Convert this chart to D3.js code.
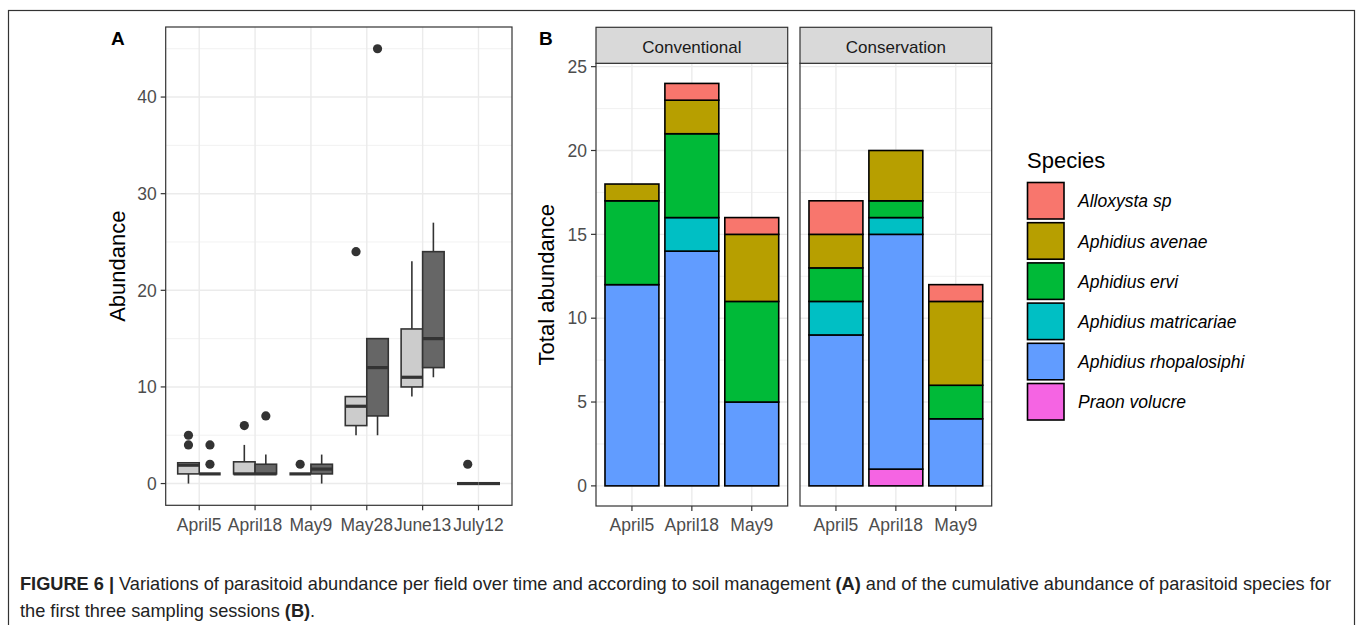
<!DOCTYPE html>
<html><head><meta charset="utf-8">
<script src="https://cdn.jsdelivr.net/npm/d3@7"></script>
<style>body{margin:0;background:#fff}svg{display:block}text{font-family:"Liberation Sans",Arial,sans-serif}</style>
</head><body><svg id="c" width="1357" height="625"></svg>
<script>
// ---------- DATA ----------
const datesA = ["April5","April18","May9","May28","June13","July12"];
const groupsA = ["Conventional","Conservation"];
// box stats: [lowerWhisker, Q1, median, Q3, upperWhisker]
const boxLight = [[0,1,1.9,2.15,2.15],[1,1,1,2.25,4],[1,1,1,1,1],[5,6,8,9,9],[9,10,11,16,23],[0,0,0,0,0]];
const outLight = [[4,5],[6],[2],[24],[],[2]];
const boxDark  = [[1,1,1,1,1],[1,1,1,2,3],[0,1,1.5,2,3],[5,7,12,15,15],[11,12,15,24,27],[0,0,0,0,0]];
const outDark  = [[2,4],[7],[],[45],[],[]];
const yTicksA = [0,10,20,30,40];

const datesB = ["April5","April18","May9"];
const panelsB = ["Conventional","Conservation"];
const species = ["Alloxysta sp","Aphidius avenae","Aphidius ervi","Aphidius matricariae","Aphidius rhopalosiphi","Praon volucre"];
const speciesColors = ["#F8766D","#B79F00","#00BA38","#00BFC4","#619CFF","#F564E3"];
// counts per species (order as species), per date
const convCounts = [[0,1,5,0,12,0],[1,2,5,2,14,0],[1,4,6,0,5,0]];
const consCounts = [[2,2,2,2,9,0],[0,3,1,1,14,1],[1,5,2,0,4,0]];
const yTicksB = [0,5,10,15,20,25];

// ---------- DRAW ----------
const svg = d3.select("#c");
svg.append("rect").attr("width",1357).attr("height",625).attr("fill","#fff");
svg.append("rect").attr("x",8.5).attr("y",10.5).attr("width",1346).attr("height",630)
  .attr("fill","none").attr("stroke","#333").attr("stroke-width",1.2);

const gridMaj="#ebebeb", axCol="#333333", tickTxt="#4d4d4d";

// ---- Panel A ----
const A = {x0:165.7,x1:512,y0:27,y1:505.3};
const xA = d3.scaleLinear().domain([0.4,datesA.length+0.6]).range([A.x0,A.x1]);
const yA = d3.scaleLinear().domain([-2.25,47.25]).range([A.y1,A.y0]);
const gA = svg.append("g");
d3.range(5,50,10).forEach(v=>gA.append("line").attr("x1",A.x0).attr("x2",A.x1).attr("y1",yA(v)).attr("y2",yA(v)).attr("stroke",gridMaj).attr("stroke-width",0.7));
yTicksA.forEach(v=>gA.append("line").attr("x1",A.x0).attr("x2",A.x1).attr("y1",yA(v)).attr("y2",yA(v)).attr("stroke",gridMaj).attr("stroke-width",1.4));
datesA.forEach((d,i)=>gA.append("line").attr("x1",xA(i+1)).attr("x2",xA(i+1)).attr("y1",A.y0).attr("y2",A.y1).attr("stroke",gridMaj).attr("stroke-width",1.4));

const bw = 0.385;
function drawBoxes(stats, outs, offset, fill){
  stats.forEach((s,i)=>{
    const cx = xA(i+1+offset);
    const hw = (xA(bw)-xA(0))/2;
    gA.append("line").attr("x1",cx).attr("x2",cx).attr("y1",yA(s[0])).attr("y2",yA(s[1])).attr("stroke",axCol).attr("stroke-width",1.6);
    gA.append("line").attr("x1",cx).attr("x2",cx).attr("y1",yA(s[3])).attr("y2",yA(s[4])).attr("stroke",axCol).attr("stroke-width",1.6);
    gA.append("rect").attr("x",cx-hw).attr("width",2*hw).attr("y",yA(s[3])).attr("height",Math.max(0,yA(s[1])-yA(s[3])))
      .attr("fill",fill).attr("stroke",axCol).attr("stroke-width",1.6);
    gA.append("line").attr("x1",cx-hw).attr("x2",cx+hw).attr("y1",yA(s[2])).attr("y2",yA(s[2])).attr("stroke",axCol).attr("stroke-width",3.2);
    outs[i].forEach(o=>gA.append("circle").attr("cx",cx).attr("cy",yA(o)).attr("r",4.6).attr("fill",axCol));
  });
}
drawBoxes(boxLight,outLight,-0.1925,"#cccccc");
drawBoxes(boxDark,outDark,0.1925,"#666666");
gA.append("rect").attr("x",A.x0).attr("y",A.y0).attr("width",A.x1-A.x0).attr("height",A.y1-A.y0).attr("fill","none").attr("stroke",axCol).attr("stroke-width",1.2);
yTicksA.forEach(v=>{
  gA.append("line").attr("x1",A.x0-5).attr("x2",A.x0).attr("y1",yA(v)).attr("y2",yA(v)).attr("stroke",axCol).attr("stroke-width",1.2);
  gA.append("text").attr("x",A.x0-9).attr("y",yA(v)).attr("dy","0.36em").attr("text-anchor","end").attr("font-size",17.5).attr("fill",tickTxt).text(v);
});
datesA.forEach((d,i)=>{
  gA.append("line").attr("x1",xA(i+1)).attr("x2",xA(i+1)).attr("y1",A.y1).attr("y2",A.y1+5).attr("stroke",axCol).attr("stroke-width",1.2);
  gA.append("text").attr("x",xA(i+1)).attr("y",530.5).attr("text-anchor","middle").attr("font-size",17.5).attr("fill",tickTxt).text(d);
});
gA.append("text").attr("transform",`translate(125,${(A.y0+A.y1)/2}) rotate(-90)`).attr("text-anchor","middle").attr("font-size",22).attr("fill","#000").text("Abundance");
svg.append("text").attr("x",111).attr("y",45).attr("font-size",19).attr("font-weight","bold").text("A");

// ---- Panel B ----
svg.append("text").attr("x",539).attr("y",45).attr("font-size",19).attr("font-weight","bold").text("B");
const B = {y0:63.3,y1:506,sy0:27.3};
const panelX = [[596,787.7],[800,991.7]];
const yB = d3.scaleLinear().domain([-1.2,25.2]).range([B.y1,B.y0]);
const countsB = [convCounts,consCounts];
const stackOrder = d3.range(species.length).reverse();
panelsB.forEach((p,pi)=>{
  const [x0,x1]=panelX[pi];
  const g = svg.append("g");
  const xB = d3.scaleLinear().domain([0.4,datesB.length+0.6]).range([x0,x1]);
  d3.range(2.5,26,5).forEach(v=>g.append("line").attr("x1",x0).attr("x2",x1).attr("y1",yB(v)).attr("y2",yB(v)).attr("stroke",gridMaj).attr("stroke-width",0.7));
  yTicksB.forEach(v=>g.append("line").attr("x1",x0).attr("x2",x1).attr("y1",yB(v)).attr("y2",yB(v)).attr("stroke",gridMaj).attr("stroke-width",1.4));
  datesB.forEach((d,i)=>g.append("line").attr("x1",xB(i+1)).attr("x2",xB(i+1)).attr("y1",B.y0).attr("y2",B.y1).attr("stroke",gridMaj).attr("stroke-width",1.4));
  const hw=(xB(0.9)-xB(0))/2;
  countsB[pi].forEach((c,i)=>{
    let cum=0;
    stackOrder.forEach(si=>{
      const v=c[si]; if(!v) return;
      g.append("rect").attr("x",xB(i+1)-hw).attr("width",2*hw).attr("y",yB(cum+v)).attr("height",yB(cum)-yB(cum+v))
        .attr("fill",speciesColors[si]).attr("stroke","#000").attr("stroke-width",1.6);
      cum+=v;
    });
  });
  g.append("rect").attr("x",x0).attr("y",B.y0).attr("width",x1-x0).attr("height",B.y1-B.y0).attr("fill","none").attr("stroke",axCol).attr("stroke-width",1.2);
  g.append("rect").attr("x",x0).attr("y",B.sy0).attr("width",x1-x0).attr("height",B.y0-B.sy0).attr("fill","#d9d9d9").attr("stroke",axCol).attr("stroke-width",1.2);
  g.append("text").attr("x",(x0+x1)/2).attr("y",52.5).attr("text-anchor","middle").attr("font-size",17).attr("fill","#1a1a1a").text(p);
  datesB.forEach((d,i)=>{
    g.append("line").attr("x1",xB(i+1)).attr("x2",xB(i+1)).attr("y1",B.y1).attr("y2",B.y1+5).attr("stroke",axCol).attr("stroke-width",1.2);
    g.append("text").attr("x",xB(i+1)).attr("y",530.5).attr("text-anchor","middle").attr("font-size",17.5).attr("fill",tickTxt).text(d);
  });
  if(pi===0){
    yTicksB.forEach(v=>{
      g.append("line").attr("x1",x0-5).attr("x2",x0).attr("y1",yB(v)).attr("y2",yB(v)).attr("stroke",axCol).attr("stroke-width",1.2);
      g.append("text").attr("x",x0-9).attr("y",yB(v)).attr("dy","0.36em").attr("text-anchor","end").attr("font-size",17.5).attr("fill",tickTxt).text(v);
    });
  }
});
svg.append("text").attr("transform",`translate(554,${(B.y0+B.y1)/2}) rotate(-90)`).attr("text-anchor","middle").attr("font-size",22).attr("fill","#000").text("Total abundance");

// ---- Legend ----
const lg = svg.append("g");
lg.append("text").attr("x",1027).attr("y",167.5).attr("font-size",22).attr("fill","#000").text("Species");
species.forEach((s,i)=>{
  const y=182.5+i*40.2;
  lg.append("rect").attr("x",1027.5).attr("y",y).attr("width",36.5).attr("height",36.5).attr("fill",speciesColors[i]).attr("stroke","#000").attr("stroke-width",1.6);
  lg.append("text").attr("x",1078).attr("y",y+18.5).attr("dy","0.36em").attr("font-size",17.5).attr("font-style","italic").attr("fill","#000").text(s);
});

// ---- Caption ----
const cap = svg.append("g").attr("fill","#222");
const t1 = cap.append("text").attr("x",20).attr("y",590).attr("font-size",18.2);
t1.append("tspan").attr("font-weight","bold").text("FIGURE 6 | ");
t1.append("tspan").text("Variations of parasitoid abundance per field over time and according to soil management ");
t1.append("tspan").attr("font-weight","bold").text("(A)");
t1.append("tspan").text(" and of the cumulative abundance of parasitoid species for");
const t2 = cap.append("text").attr("x",20).attr("y",617).attr("font-size",18.2);
t2.append("tspan").text("the first three sampling sessions ");
t2.append("tspan").attr("font-weight","bold").text("(B)");
t2.append("tspan").text(".");
</script></body></html>
